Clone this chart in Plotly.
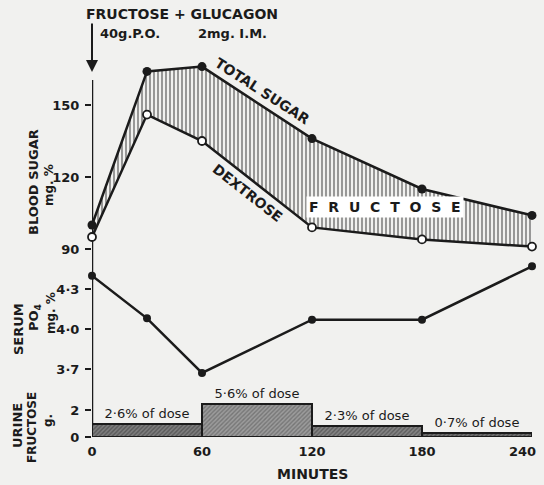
import plotly.graph_objects as go

# ---------------- data ----------------
minutes = [0, 30, 60, 120, 180, 240]
total_sugar = [100, 164, 166, 136, 115, 104]
dextrose = [95, 146, 135, 99, 94, 91]
serum_po4 = [4.40, 4.08, 3.67, 4.07, 4.07, 4.47]

urine_edges = [0, 60, 120, 180, 240]
urine_fructose = [1.0, 2.45, 0.85, 0.3]
urine_labels = ["2·6% of dose", "5·6% of dose", "2·3% of dose", "0·7% of dose"]

x_ticks = [0, 60, 120, 180, 240]
x_ticktext = ["0", "60", "120", "180", "240"]
sugar_ticks = [90, 120, 150]
po4_ticks = [3.7, 4.0, 4.3]
po4_ticktext = ["3·7", "4·0", "4·3"]
urine_ticks = [0, 2]

# ---------------- style ----------------
INK = "#1b1b1b"
BG = "#f1f1ef"
FONT = "DejaVu Sans"
WT = "bold"
W, H = 544, 485
L, R, T, B = 92, 12, 58, 48
plot_h = H - T - B


def py(px):
    """pixel row -> paper fraction"""
    return (H - B - px) / plot_h


def fnt(size, weight=WT):
    return dict(family=FONT, size=size, color=INK, weight=weight)


urine_centers = [(a + b) / 2 for a, b in zip(urine_edges[:-1], urine_edges[1:])]
urine_widths = [b - a for a, b in zip(urine_edges[:-1], urine_edges[1:])]

fig = go.Figure()

# blood sugar: fill between dextrose and total sugar
fig.add_trace(go.Scatter(x=minutes, y=dextrose, mode="lines", yaxis="y3",
                         line=dict(color=INK, width=2.5), showlegend=False))
fig.add_trace(go.Scatter(x=minutes, y=total_sugar, mode="lines", yaxis="y3",
                         fill="tonexty",
                         fillpattern=dict(shape="|", fgcolor=INK, bgcolor="rgba(0,0,0,0)",
                                          size=4, solidity=0.42),
                         line=dict(color=INK, width=2.5), showlegend=False))
fig.add_trace(go.Scatter(x=minutes, y=total_sugar, mode="markers", yaxis="y3",
                         marker=dict(color=INK, size=9), cliponaxis=False, showlegend=False))
fig.add_trace(go.Scatter(x=minutes, y=dextrose, mode="markers", yaxis="y3",
                         marker=dict(color="white", size=8, line=dict(color=INK, width=1.8)),
                         cliponaxis=False, showlegend=False))

# serum PO4
fig.add_trace(go.Scatter(x=minutes, y=serum_po4, mode="lines+markers", yaxis="y2",
                         line=dict(color=INK, width=2.5),
                         marker=dict(color=INK, size=8), cliponaxis=False, showlegend=False))

# urine fructose bars
fig.add_trace(go.Bar(x=urine_centers, y=urine_fructose, width=urine_widths, yaxis="y",
                     marker=dict(color="#7a7a7a",
                                 line=dict(color=INK, width=2),
                                 pattern=dict(shape="/", size=3, solidity=0.45,
                                              fgcolor=["#333333", "#505050", "#363636", "#2a2a2a"],
                                              bgcolor=["#7e7e7e", "#9c9c9c", "#858585", "#707070"])),
                     text=urine_labels, textposition="outside", constraintext="none",
                     textfont=fnt(13, "normal"),
                     cliponaxis=False, showlegend=False))

axis_common = dict(showline=False, showgrid=False, zeroline=False, ticks="outside",
                   ticklen=6, tickwidth=2, tickcolor=INK, ticklabelstandoff=3,
                   tickfont=fnt(13), automargin=False)

# last x label is drawn as an annotation so it can sit inside the page edge
fig.update_layout(
    width=W, height=H,
    margin=dict(l=L, r=R, t=T, b=B, autoexpand=False),
    paper_bgcolor=BG, plot_bgcolor=BG,
    font=dict(family=FONT, color=INK),
    bargap=0,
    xaxis=dict(range=[0, 240], tickvals=x_ticks[:-1], ticktext=x_ticktext[:-1],
               showline=False, showgrid=False,
               zeroline=False, ticks="", ticklabelstandoff=5, anchor="y",
               automargin=False, tickfont=fnt(13)),
    yaxis=dict(domain=[0, py(380)], range=[0, 57 / 13.5], tickvals=urine_ticks, **axis_common),
    yaxis2=dict(domain=[py(380), py(255)],
                range=[4.0 - (380 - 329) / 133.3, 4.0 + (329 - 255) / 133.3],
                tickvals=po4_ticks, ticktext=po4_ticktext, **axis_common),
    yaxis3=dict(domain=[py(255), 1.0],
                range=[150 - (255 - 105) / 2.4, 150 + (105 - T) / 2.4],
                tickvals=sugar_ticks, **axis_common),
)

# vertical axis line
fig.add_shape(type="line", xref="x", yref="paper", x0=0, x1=0, y0=0, y1=py(80),
              line=dict(color=INK, width=2.5), layer="below")

ann = []


def label(text, px_x, px_y, size=14, angle=0, weight=WT, **kw):
    ann.append(dict(text=text, xref="paper", yref="paper", x=0, xshift=px_x - L,
                    y=py(px_y), showarrow=False, textangle=angle, font=fnt(size, weight),
                    xanchor="center", yanchor="middle", **kw))


# last x tick label
ann.append(dict(text=x_ticktext[-1], xref="x", yref="paper", x=x_ticks[-1], xshift=-10,
                y=py(451), xanchor="center", yanchor="middle", showarrow=False, font=fnt(13)))

# top header
label("FRUCTOSE + GLUCAGON", 182, 14, size=14)
label("40g.P.O.", 130, 33, size=13)
label("2mg. I.M.", 232, 33, size=13)

# left titles
label("BLOOD SUGAR", 33, 182, size=13, angle=-90)
label("mg. %", 49, 185, size=12, angle=-90)
label("SERUM", 18, 329, size=13, angle=-90)
label("PO<sub>4</sub>", 34, 318, size=13, angle=-90)
label("mg. %", 51, 313, size=12, angle=-90)
label("URINE", 17, 426, size=13, angle=-90)
label("FRUCTOSE", 32, 428, size=12, angle=-90)
label("g.", 48, 421, size=12, angle=-90)

# x title
label("MINUTES", 312, 474, size=14)

# arrow
ann.append(dict(text="", xref="x", yref="paper", x=0, y=py(72), ax=0, ay=-50,
                showarrow=True, arrowhead=2, arrowsize=1.2, arrowwidth=2, arrowcolor=INK))

# curve labels (data coordinates of sugar axis)
ann.append(dict(text="TOTAL SUGAR", xref="x", yref="y3", x=93, y=156, showarrow=False,
                textangle=33, font=fnt(14)))
ann.append(dict(text="DEXTROSE", xref="x", yref="y3", x=85, y=113.5, showarrow=False,
                textangle=38, font=fnt(14)))
ann.append(dict(text="F\u2002\u2009R\u2002\u2009U\u2002\u2009C\u2002\u2009T\u2002\u2009O\u2002\u2009S\u2002\u2009E",
                xref="x", yref="y3", x=160, y=107.5, showarrow=False, bgcolor="white",
                borderpad=2, font=fnt(14)))

fig.update_layout(annotations=ann)

fig.write_html("out.html", config={"displayModeBar": False},
               post_script="document.body.style.margin='0';document.body.style.background='%s';" % BG)
